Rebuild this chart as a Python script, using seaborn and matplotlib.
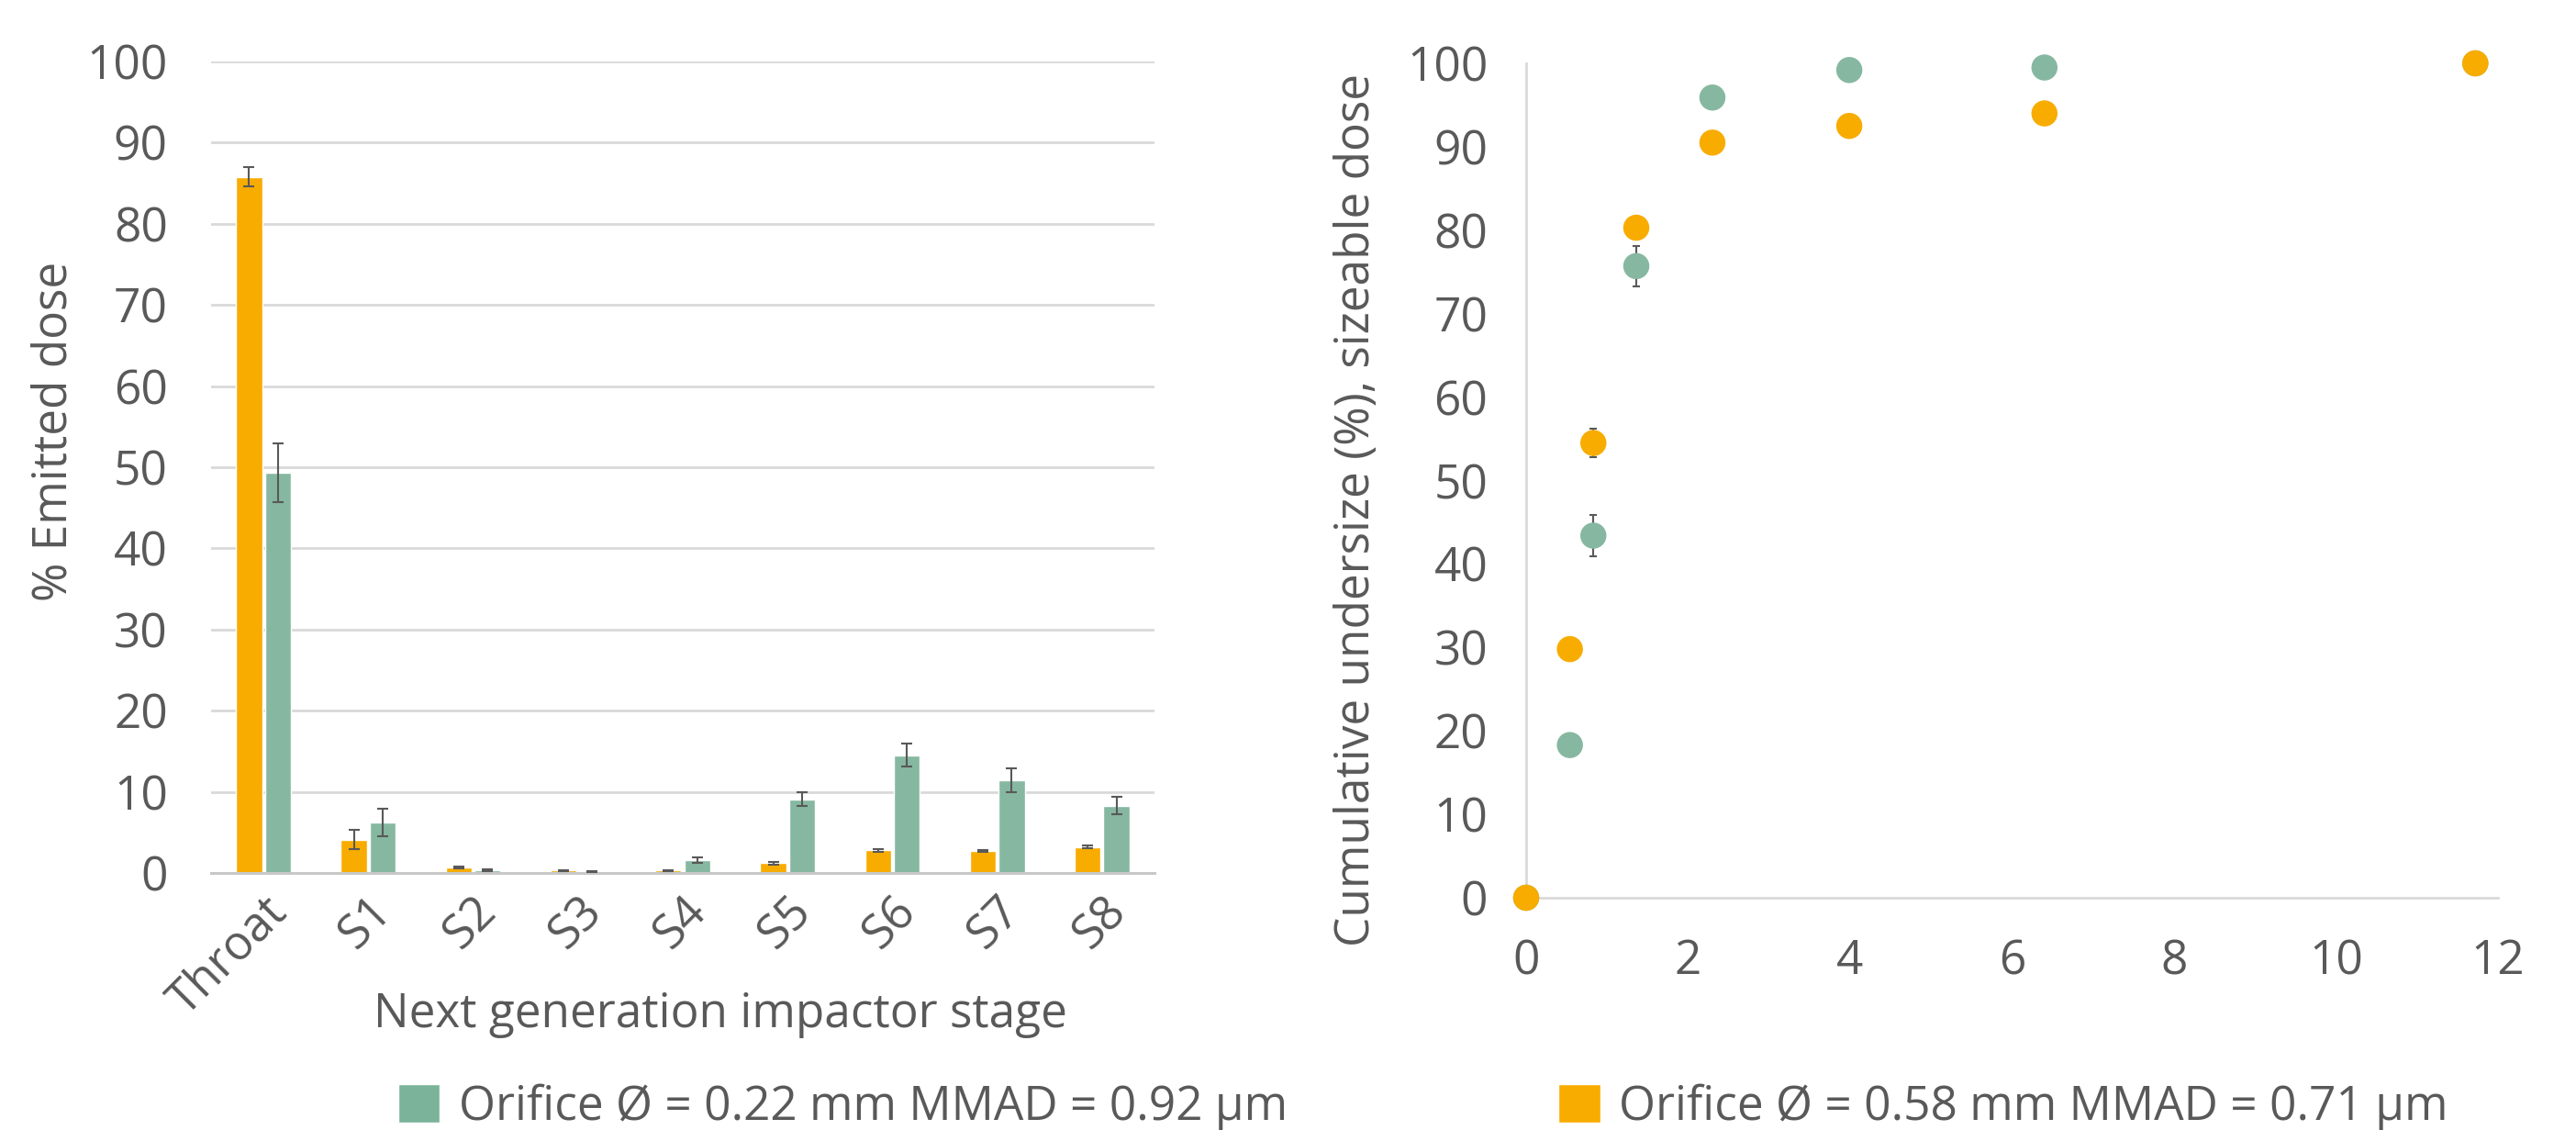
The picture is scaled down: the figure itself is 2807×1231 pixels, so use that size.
import matplotlib.pyplot as plt
import numpy as np
import pandas as pd
import seaborn as sns
from matplotlib.patches import Patch
from matplotlib.ticker import MultipleLocator

# NGI stage deposition, % of emitted dose
stages = ["Throat", "S1", "S2", "S3", "S4", "S5", "S6", "S7", "S8"]
label_022 = "Orifice Ø = 0.22 mm MMAD = 0.92 µm"
label_058 = "Orifice Ø = 0.58 mm MMAD = 0.71 µm"

dose_058 = [85.8, 4.1, 0.7, 0.3, 0.3, 1.2, 2.8, 2.7, 3.2]
err_058 = [1.2, 1.2, 0.1, 0.05, 0.05, 0.2, 0.15, 0.15, 0.2]
dose_022 = [49.3, 6.2, 0.3, 0.2, 1.6, 9.1, 14.5, 11.4, 8.3]
err_022 = [3.6, 1.7, 0.1, 0.05, 0.3, 0.8, 1.4, 1.45, 1.1]

# cumulative undersize vs stage cut-off diameter (um)
cutoff_um = [0, 0.54, 0.83, 1.36, 2.30, 3.99, 6.40, 11.72]
cum_022 = [0, 18.3, 43.4, 75.7, 95.9, 99.2, 99.5, 100]
cum_err_022 = [0, 0.5, 2.5, 2.4, 0.5, 0.3, 0.3, 0]
cum_058 = [0, 29.8, 54.5, 80.3, 90.5, 92.5, 94.0, 100]
cum_err_058 = [0, 0.5, 1.7, 0.5, 1.3, 0.5, 0.5, 0]

green = "#86B8A1"
green_leg = "#7BB39A"
orange = "#F8AC00"
text_c = "#595959"
grid_c = "#D9D9D9"
fs = 37

sns.set_theme(style="white")
plt.rcParams["font.family"] = ["Open Sans", "DejaVu Sans"]
plt.rcParams["text.color"] = text_c
plt.rcParams["axes.labelcolor"] = text_c
plt.rcParams["xtick.color"] = text_c
plt.rcParams["ytick.color"] = text_c

fig = plt.figure(figsize=(28.07, 12.31), dpi=100)
W, H = 2807, 1231
ax1 = fig.add_axes([230 / W, 1 - 951 / H, (1258 - 230) / W, (951 - 67) / H])
ax2 = fig.add_axes([1663 / W, 1 - 978 / H, (2722 - 1663) / W, (978 - 69) / H])

# ---- left: bars
bars = pd.DataFrame({
    "stage": stages * 2,
    "dose": dose_058 + dose_022,
    "series": [label_058] * len(stages) + [label_022] * len(stages),
})
sns.barplot(data=bars, x="stage", y="dose", hue="series",
            hue_order=[label_058, label_022],
            palette={label_058: orange, label_022: green},
            width=0.55, gap=0.1, errorbar=None, legend=False,
            saturation=1, ax=ax1, zorder=2)
for cont, errs in zip(ax1.containers, [err_058, err_022]):
    xs = [p.get_x() + p.get_width() / 2 for p in cont.patches]
    ys = [p.get_height() for p in cont.patches]
    ax1.errorbar(xs, ys, yerr=errs, fmt="none", ecolor=text_c,
                 elinewidth=1.5, capsize=4, capthick=1.5, zorder=3)

ax1.set_ylim(0, 100)
ax1.set_xlim(-0.5, len(stages) - 0.5)
ax1.yaxis.set_major_locator(MultipleLocator(10))
ax1.grid(axis="y", color=grid_c, linewidth=2, zorder=0)
ax1.set_axisbelow(True)
for s in ["left", "right", "top"]:
    ax1.spines[s].set_visible(False)
ax1.spines["bottom"].set_color("#C8C8C8")
ax1.spines["bottom"].set_linewidth(2.2)
ax1.tick_params(axis="y", length=0, pad=34, labelsize=fs)
ax1.tick_params(axis="x", length=0, pad=12, labelsize=fs)
plt.setp(ax1.get_xticklabels(), rotation=45, ha="right", rotation_mode="anchor")
ax1.set_xlabel("Next generation impactor stage", fontsize=fs)
ax1.set_ylabel("% Emitted dose", fontsize=fs)
ax1.xaxis.set_label_coords(0.54, -0.146)
ax1.yaxis.set_label_coords(-0.142, 0.544)

# ---- right: cumulative undersize
cum = pd.DataFrame({
    "cutoff": cutoff_um * 2,
    "cum": cum_022 + cum_058,
    "err": cum_err_022 + cum_err_058,
    "series": [label_022] * len(cutoff_um) + [label_058] * len(cutoff_um),
})
for lab in [label_022, label_058]:
    sub = cum[cum["series"] == lab]
    ax2.errorbar(sub["cutoff"], sub["cum"], yerr=sub["err"], fmt="none",
                 ecolor=text_c, elinewidth=1.5, capsize=3, capthick=1.5,
                 zorder=2, clip_on=False)
sns.scatterplot(data=cum, x="cutoff", y="cum", hue="series",
                palette={label_022: green, label_058: orange},
                s=420, linewidth=0, legend=False, ax=ax2, zorder=3,
                clip_on=False)

ax2.set_xlim(0, 12)
ax2.set_ylim(0, 100)
ax2.xaxis.set_major_locator(MultipleLocator(2))
ax2.xaxis.set_minor_locator(MultipleLocator(0.4))
ax2.yaxis.set_major_locator(MultipleLocator(10))
ax2.yaxis.set_minor_locator(MultipleLocator(2))
for s in ["right", "top"]:
    ax2.spines[s].set_visible(False)
for s in ["left", "bottom"]:
    ax2.spines[s].set_color(grid_c)
    ax2.spines[s].set_linewidth(2)
ax2.tick_params(which="major", direction="out", length=14, width=2,
                color=grid_c, labelsize=fs)
ax2.tick_params(which="minor", direction="out", length=10, width=2,
                color=grid_c)
ax2.tick_params(axis="x", which="major", pad=18)
ax2.tick_params(axis="y", which="major", pad=16)
ax2.set_xlabel("")
ax2.set_ylabel("Cumulative undersize (%), sizeable dose", fontsize=fs)
ax2.yaxis.set_label_coords(-0.15, 0.465)

# ---- shared legend
handles = [Patch(facecolor=green_leg, label=label_022),
           Patch(facecolor=orange, label=label_058)]
fig.legend(handles=handles, loc="center left",
           bbox_to_anchor=(434 / W, 1 - 1206 / H), ncol=2, frameon=False,
           fontsize=fs, handlelength=0.88, handleheight=0.88,
           handletextpad=0.4, columnspacing=5.75, borderpad=0,
           borderaxespad=0)

fig.savefig("out.png", dpi=100)
